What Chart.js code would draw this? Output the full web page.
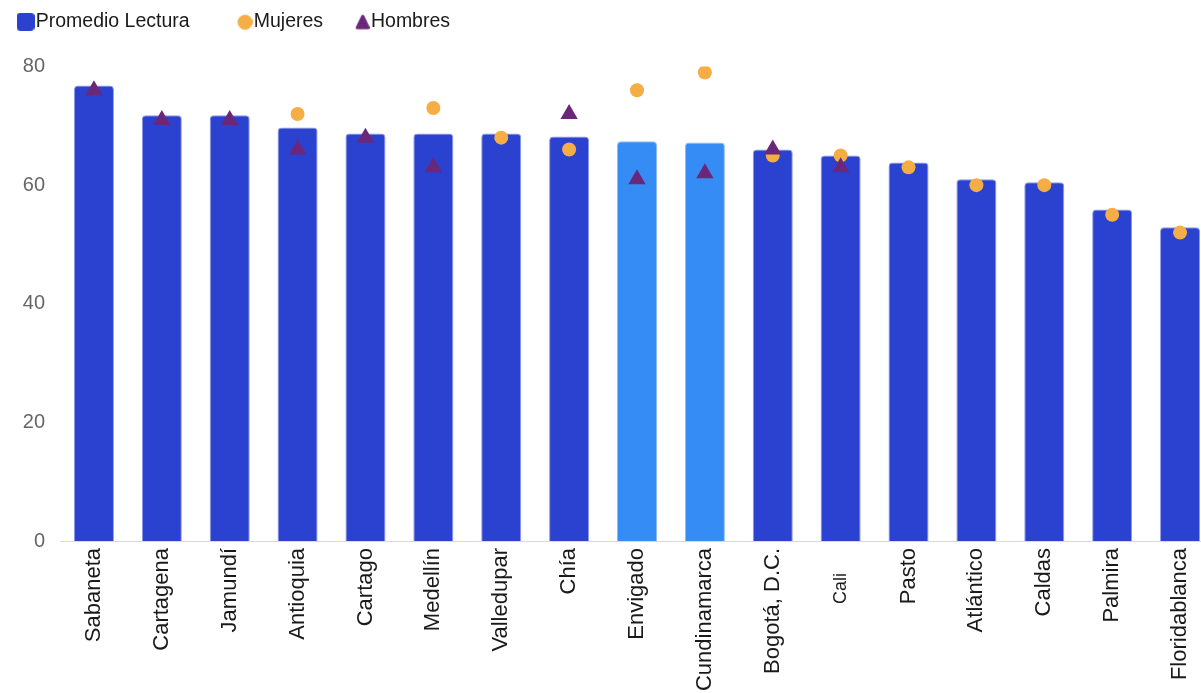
<!DOCTYPE html>
<html>
<head>
<meta charset="utf-8">
<script src="https://cdn.jsdelivr.net/npm/chart.js@4/dist/chart.umd.min.js"></script>
<style>
  html, body { margin: 0; padding: 0; background: #fff; overflow: hidden; }
  #wrap { position: relative; width: 1224px; height: 693px; }
</style>
</head>
<body>
<div id="wrap"><canvas id="c"></canvas></div>
<script>
const categories = ["Sabaneta", "Cartagena", "Jamundí", "Antioquia", "Cartago", "Medellín", "Valledupar", "Chía", "Envigado", "Cundinamarca", "Bogotá, D.C.", "Cali", "Pasto", "Atlántico", "Caldas", "Palmira", "Floridablanca"];
const promedioLectura = [76.8, 71.8, 71.8, 69.7, 68.7, 68.7, 68.7, 68.2, 67.4, 67.2, 66.0, 65.0, 63.8, 61.0, 60.5, 55.9, 52.9];
const mujeres = [null, null, null, 72, null, 73, 68, 66, 76, 79, 65, 65, 63, 60, 60, 55, 52];
const hombres = [76, 71, 71, 66, 68, 63, null, 72, 61, 62, 66, 63, null, null, null, null, null];
const highlighted = ["Envigado", "Cundinamarca"];
const yTicks = [0, 20, 40, 60, 80];

const darkBlue = "#2b41cf";
const lightBlue = "#368cf5";
const orange = "#f4ae45";
const purple = "#6b277a";
const FONT = "'Liberation Sans', Arial, sans-serif";

// legend marker images (18px wide, marker aligned to the right)
function marker(kind, color) {
  const c = document.createElement("canvas");
  c.width = 18; c.height = 18;
  const g = c.getContext("2d");
  g.fillStyle = color;
  g.strokeStyle = color;
  if (kind === "square") {
    g.beginPath(); g.roundRect(0, 0, 18, 18, 4); g.fill();
  } else if (kind === "circle") {
    g.beginPath(); g.arc(10.5, 9.5, 7.5, 0, Math.PI * 2); g.fill();
  } else {
    g.lineJoin = "round"; g.lineWidth = 3;
    g.beginPath(); g.moveTo(11, 3.5); g.lineTo(16.5, 15); g.lineTo(5.5, 15); g.closePath();
    g.fill(); g.stroke();
  }
  return c;
}
const legendMarkers = [marker("square", darkBlue), marker("circle", orange), marker("triangle", purple)];
const legendExtraSpaces = [8, 5, 0];

const legendSpacer = {
  id: "legendSpacer",
  beforeInit(chart) {
    const origFit = chart.legend.fit;
    chart.legend.fit = function () {
      origFit.bind(chart.legend)();
      this.height += 27;
    };
  },
  afterLayout(chart) {
    chart.legend.left += 15;
    chart.legend.top += 2;
  }
};

new Chart(document.getElementById("c"), {
  type: "bar",
  data: {
    labels: categories,
    datasets: [
      {
        type: "bar",
        label: "Promedio Lectura",
        data: promedioLectura,
        backgroundColor: categories.map(c => highlighted.includes(c) ? lightBlue : darkBlue),
        borderColor: categories.map(c => highlighted.includes(c) ? "#8fbcf8" : "#8d98e6"),
        borderWidth: 1,
        borderRadius: 4,
        borderSkipped: "bottom",
        categoryPercentage: 1,
        barPercentage: 0.59,
        order: 3
      },
      {
        type: "line",
        label: "Mujeres",
        data: mujeres,
        showLine: false,
        pointStyle: "circle",
        pointRadius: 7,
        pointHoverRadius: 7,
        pointBackgroundColor: orange,
        pointBorderColor: orange,
        pointBorderWidth: 0,
        backgroundColor: orange,
        borderColor: orange,
        order: 2
      },
      {
        type: "line",
        label: "Hombres",
        data: hombres,
        showLine: false,
        pointStyle: "triangle",
        pointRadius: 7,
        pointHoverRadius: 7,
        pointBackgroundColor: purple,
        pointBorderColor: purple,
        pointBorderWidth: 3,
        borderJoinStyle: "round",
        backgroundColor: purple,
        borderColor: purple,
        order: 1
      }
    ]
  },
  options: {
    responsive: true,
    maintainAspectRatio: false,
    animation: false,
    layout: { padding: { left: 0, right: 0, top: 0, bottom: 0 } },
    plugins: {
      legend: {
        position: "top",
        align: "start",
        labels: {
          usePointStyle: true,
          pointStyleWidth: 1,
          boxHeight: 18,
          padding: 10,
          color: "#1a1a1a",
          font: { family: FONT, size: 19.5 },
          sort: (a, b) => a.datasetIndex - b.datasetIndex,
          generateLabels: (chart) => {
            const items = Chart.defaults.plugins.legend.labels.generateLabels(chart);
            items.forEach(it => {
              it.pointStyle = legendMarkers[it.datasetIndex];
              it.text = it.text + " ".repeat(legendExtraSpaces[it.datasetIndex]);
            });
            return items;
          }
        }
      },
      tooltip: { enabled: false }
    },
    scales: {
      x: {
        grid: { display: false, drawTicks: false, tickLength: 0 },
        border: { display: true, color: "#d9d9d9", width: 1 },
        afterFit: (axis) => { axis.paddingLeft = 0; axis.paddingRight = 0; axis.height = 152; },
        ticks: {
          autoSkip: false,
          minRotation: 90,
          maxRotation: 90,
          padding: 7,
          color: "#1a1a1a",
          font: (ctx) => ({
            family: FONT,
            size: categories[ctx.index] === "Cali" ? 18 : 22
          }),
          callback: function (value, index) {
            const l = categories[index];
            return l === "Cali" ? l + "     " : l;
          }
        }
      },
      y: {
        min: 0,
        max: 80,
        afterBuildTicks: (axis) => { axis.ticks = yTicks.map(v => ({ value: v })); },
        afterFit: (axis) => { axis.width = 60; },
        grid: { display: false, drawTicks: false },
        border: { display: false },
        ticks: {
          padding: 15,
          color: "#666666",
          font: { family: FONT, size: 20 }
        }
      }
    }
  },
  plugins: [legendSpacer]
});
</script>
</body>
</html>
